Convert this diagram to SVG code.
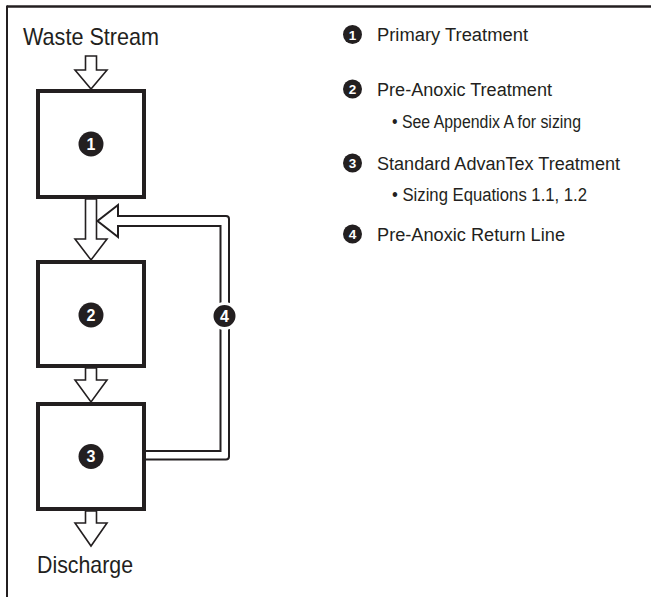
<svg xmlns="http://www.w3.org/2000/svg" width="651" height="597" viewBox="0 0 651 597">
<style>
text{font-family:"Liberation Sans Narrow","Liberation Sans",Arial,sans-serif;fill:#231f20}
.big{font-size:24px}
.leg{font-size:18px}
.box{fill:#fff;stroke:#231f20;stroke-width:4}
.arr{fill:#fff;stroke:#231f20;stroke-width:1.6;stroke-linejoin:miter}
.pipe{fill:none;stroke:#231f20;stroke-width:2}
.num{fill:#231f20}
.nt{fill:#fff;font-family:"Liberation Sans",Arial,sans-serif;font-weight:bold;text-anchor:middle}
</style>
<g id="frame">
<line x1="7" y1="6.5" x2="651" y2="6.5" stroke="#231f20" stroke-width="2.5"/>
<line x1="7" y1="5.5" x2="7" y2="597" stroke="#231f20" stroke-width="2"/>
</g>
<g id="connectors">
<path class="arr" d="M85.5,56 H96.5 V70 H107 L91,89 L75,70 H85.5 Z"/>
<path class="arr" d="M85.5,199 H96.5 V239 H107 L91,260 L75,239 H85.5 Z"/>
<path class="arr" d="M85.5,368 H96.5 V380 H107 L91,402 L75,380 H85.5 Z"/>
<path class="arr" d="M85.5,511 H96.5 V523 H107 L91,546 L75,523 H85.5 Z"/>
<path class="pipe" d="M146,459.5 H226 Q229,459.5 229,456.5 V219 Q229,216 226,216 H118 V205 L97.5,221 L118,237 V226 H220.5 V451 H146"/>
</g>
<g id="label-waste">
<text class="big" x="23" y="45" textLength="136" lengthAdjust="spacingAndGlyphs">Waste Stream</text>
</g>
<g id="node1">
<rect class="box" x="38" y="91" width="106" height="106"/>
<circle class="num" cx="91" cy="144" r="12.5"/>
<text class="nt" x="91" y="149.5" font-size="16">1</text>
</g>
<g id="node2">
<rect class="box" x="38" y="262" width="106" height="104"/>
<circle class="num" cx="91" cy="315" r="12.5"/>
<text class="nt" x="91" y="320.5" font-size="16">2</text>
</g>
<g id="node3">
<rect class="box" x="38" y="404" width="106" height="105"/>
<circle class="num" cx="91" cy="456.5" r="12.5"/>
<text class="nt" x="91" y="462" font-size="16">3</text>
</g>
<g id="node4">
<circle class="num" cx="224.5" cy="316" r="12.5" stroke="#fff" stroke-width="3"/>
<text class="nt" x="224.5" y="321.5" font-size="16">4</text>
</g>
<g id="label-discharge">
<text class="big" x="37" y="573" textLength="96" lengthAdjust="spacingAndGlyphs">Discharge</text>
</g>
<g id="legend">
<circle class="num" cx="352.5" cy="34.5" r="9.5"/>
<text class="nt" x="352.5" y="39.5" font-size="13.5">1</text>
<text class="leg" x="377" y="41" textLength="151" lengthAdjust="spacingAndGlyphs">Primary Treatment</text>
<circle class="num" cx="352.5" cy="89" r="9.5"/>
<text class="nt" x="352.5" y="94" font-size="13.5">2</text>
<text class="leg" x="377" y="96" textLength="175" lengthAdjust="spacingAndGlyphs">Pre-Anoxic Treatment</text>
<text class="leg" x="392" y="127.5" textLength="189" lengthAdjust="spacingAndGlyphs">• See Appendix A for sizing</text>
<circle class="num" cx="352.5" cy="163" r="9.5"/>
<text class="nt" x="352.5" y="168" font-size="13.5">3</text>
<text class="leg" x="377" y="170" textLength="243" lengthAdjust="spacingAndGlyphs">Standard AdvanTex Treatment</text>
<text class="leg" x="392" y="200.5" textLength="195" lengthAdjust="spacingAndGlyphs">• Sizing Equations 1.1, 1.2</text>
<circle class="num" cx="352.5" cy="234" r="9.5"/>
<text class="nt" x="352.5" y="239" font-size="13.5">4</text>
<text class="leg" x="377" y="241" textLength="188" lengthAdjust="spacingAndGlyphs">Pre-Anoxic Return Line</text>
</g>
</svg>
